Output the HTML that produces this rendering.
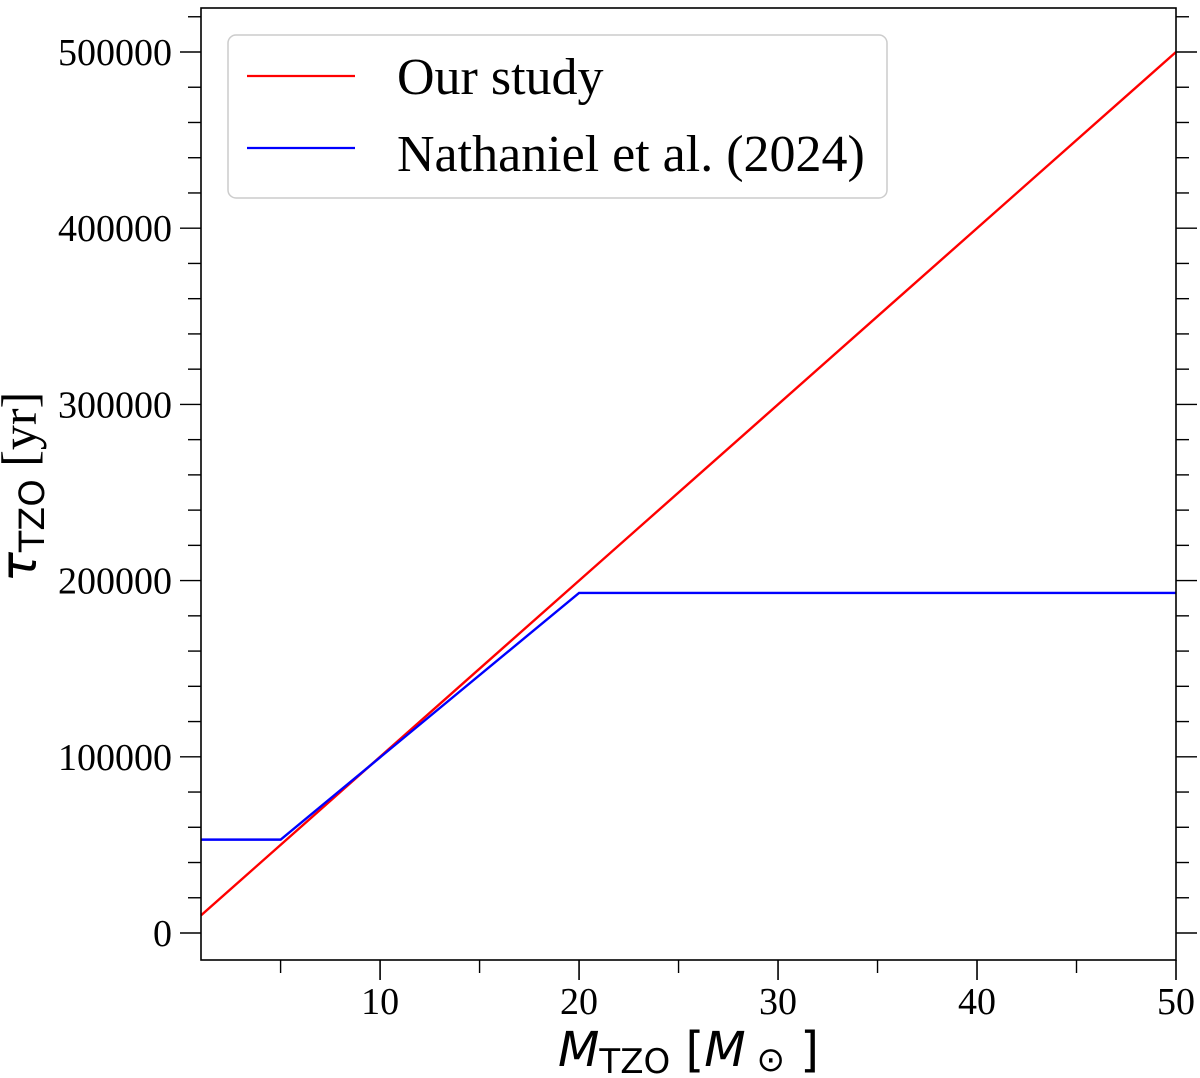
<!DOCTYPE html>
<html><head><meta charset="utf-8"><style>
html,body{margin:0;padding:0;background:#fff;}
svg{display:block;}
.tick{font-family:"Liberation Serif",serif;font-size:38px;fill:#000;}
</style></head><body>
<svg id="chart" width="1200" height="1078" xmlns="http://www.w3.org/2000/svg">
<g id="axes"></g>
<g id="series"></g>
<rect x="201" y="8" width="975" height="952" fill="none" stroke="#000" stroke-width="1.6"/>
<g>
<rect x="228" y="35" width="659" height="163" rx="8" fill="#fff" fill-opacity="0.8" stroke="#ccc" stroke-width="1.5"/>
<line x1="247" y1="76" x2="355" y2="76" stroke="#ff0000" stroke-width="2.2"/>
<text x="397" y="94" font-family="Liberation Serif,serif" font-size="52">Our study</text>
<line x1="247" y1="148" x2="355" y2="148" stroke="#0000ff" stroke-width="2.2"/>
<text x="397" y="171" font-family="Liberation Serif,serif" font-size="52">Nathaniel et al. (2024)</text>
</g>
<text x="558" y="1066" font-family="DejaVu Sans,sans-serif" font-size="48"><tspan font-style="italic">M</tspan><tspan font-size="34" dy="7">TZO</tspan><tspan dy="-7"> [</tspan><tspan font-style="italic">M</tspan><tspan font-size="34" dy="5"> ⊙</tspan><tspan dy="-5"> ]</tspan></text>
<text transform="translate(36,487) rotate(-90)" text-anchor="middle" font-family="DejaVu Sans,sans-serif" font-size="50"><tspan font-style="italic">τ</tspan><tspan font-size="35" dy="8">TZO</tspan><tspan dy="-8" font-family="Liberation Serif,serif"> [yr]</tspan></text>
</svg>
<script>
const ourX=[1,50];
const ourY=[10000,500000];
const natX=[1,5,20,50];
const natY=[53000,53000,193000,193000];
const xTicks=[10,20,30,40,50];
const xMinor=[5,15,25,35,45];
const yTicks=[0,100000,200000,300000,400000,500000];
const NS='http://www.w3.org/2000/svg';
const L=201,R=1176,T=8,B=960;
function sx(v){return 201+(v-1)*(1176-201)/49;}
function sy(v){return 933-v*(933-52)/500000;}
function mk(tag,attrs,parent){const e=document.createElementNS(NS,tag);for(const k in attrs)e.setAttribute(k,attrs[k]);parent.appendChild(e);return e;}
const ax=document.getElementById('axes');
xTicks.forEach(v=>{
  const l=mk('line',{x1:sx(v),x2:sx(v),y1:B,y2:B+20,stroke:'#000','stroke-width':1.6},ax);
  
  
  const t=mk('text',{x:sx(v),y:1014,'text-anchor':'middle',class:'tick'},ax);
  t.textContent=v;
  
  
});
xMinor.forEach(v=>{
  const l=mk('line',{x1:sx(v),x2:sx(v),y1:B,y2:B+13,stroke:'#000','stroke-width':1.4},ax);
  
  
});
for(let v=0;v<=520000;v+=20000){
  const y=sy(v); if(y<T) continue;
  const major=v%100000===0;
  const len=major?21:13;
  const l1=mk('line',{x1:L-len,x2:L,y1:y,y2:y,stroke:'#000','stroke-width':1.4},ax);
  
  
  const l2=mk('line',{x1:R,x2:R+len,y1:y,y2:y,stroke:'#000','stroke-width':1.4},ax);
  
  
}
yTicks.forEach(v=>{
  const t=mk('text',{x:172,y:sy(v)+13,'text-anchor':'end',class:'tick'},ax);
  t.textContent=v;
  
  
});
const sr=document.getElementById('series');
function line(xs,ys,color,name){
  const p=mk('polyline',{points:xs.map((x,i)=>sx(x)+','+sy(ys[i])).join(' '),fill:'none',stroke:color,'stroke-width':2.4},sr);
  
  
}
line(ourX,ourY,'#ff0000','our-study-line');
line(natX,natY,'#0000ff','nathaniel-line');
</script>
</body></html>
